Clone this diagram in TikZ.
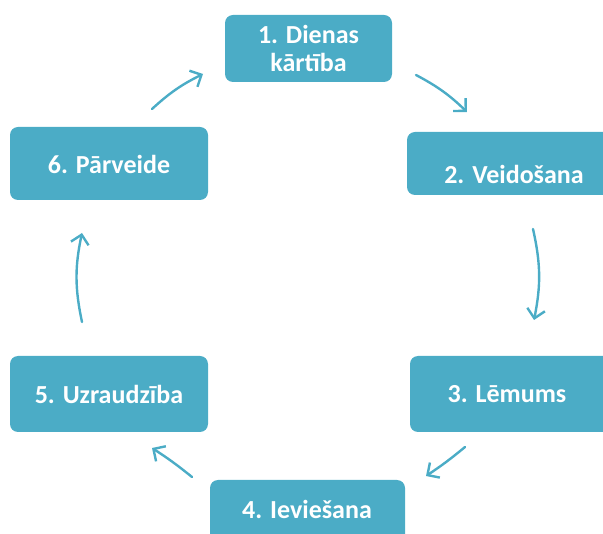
\documentclass[tikz,border=0pt]{standalone}
\usepackage{fontspec}
\setmainfont{Carlito}
\usetikzlibrary{arrows.meta}
\definecolor{teal}{RGB}{75,172,198}
\tikzset{
  stepbox/.style={fill=teal, draw=none, rounded corners=8pt, text=white, font=\bfseries\fontsize{26}{28}\selectfont, align=center, inner sep=0pt},
  flow/.style={draw=teal, line width=2.4pt, line cap=round, -{Straight Barb[length=9pt,width=18pt,line width=2.4pt]}},
}
\begin{document}
\begin{tikzpicture}[x=1pt,y=-1pt]
\useasboundingbox (0,0) rectangle (603,534);
\clip (0,0) rectangle (603,534);
% boxes
\path[stepbox] (225,15) rectangle (392,82);
\node[stepbox] (b1) at (308.5,48.5) {1. Dienas\\kārtība};
\path[stepbox] (407,132) rectangle (620,195);
\node[stepbox] (b2) at (514,174) {2. Veidošana};
\path[stepbox] (410,356) rectangle (620,432);
\node[stepbox] (b3) at (507,394) {3. Lēmums};
\path[stepbox] (210,480) rectangle (405,560);
\node[stepbox] (b4) at (307,509) {4. Ieviešana};
\path[stepbox] (10,356) rectangle (208,432);
\node[stepbox] (b5) at (109,394) {5. Uzraudzība};
\path[stepbox] (10,127) rectangle (208,200);
\node[stepbox] (b6) at (109,164) {6. Pārveide};
% arrows
\coordinate (a1s) at (416,75);
\coordinate (a1e) at (467,112);
\coordinate (a2s) at (533,229);
\coordinate (a2e) at (534,320);
\coordinate (a3s) at (465,447);
\coordinate (a3e) at (426,476);
\coordinate (a4s) at (192,477);
\coordinate (a4e) at (152,448);
\coordinate (a5s) at (82,322);
\coordinate (a5e) at (82,233);
\coordinate (a6s) at (152,109);
\coordinate (a6e) at (203,74);
\draw[flow] (a1s) to[bend left=8] (a1e);
\draw[flow] (a2s) to[bend left=12] (a2e);
\draw[flow] (a3s) to[bend left=3] (a3e);
\draw[flow] (a4s) to[bend right=3] (a4e);
\draw[flow] (a5s) to[bend left=12] (a5e);
\draw[flow] (a6s) to[bend left=8] (a6e);
\end{tikzpicture}
\end{document}
